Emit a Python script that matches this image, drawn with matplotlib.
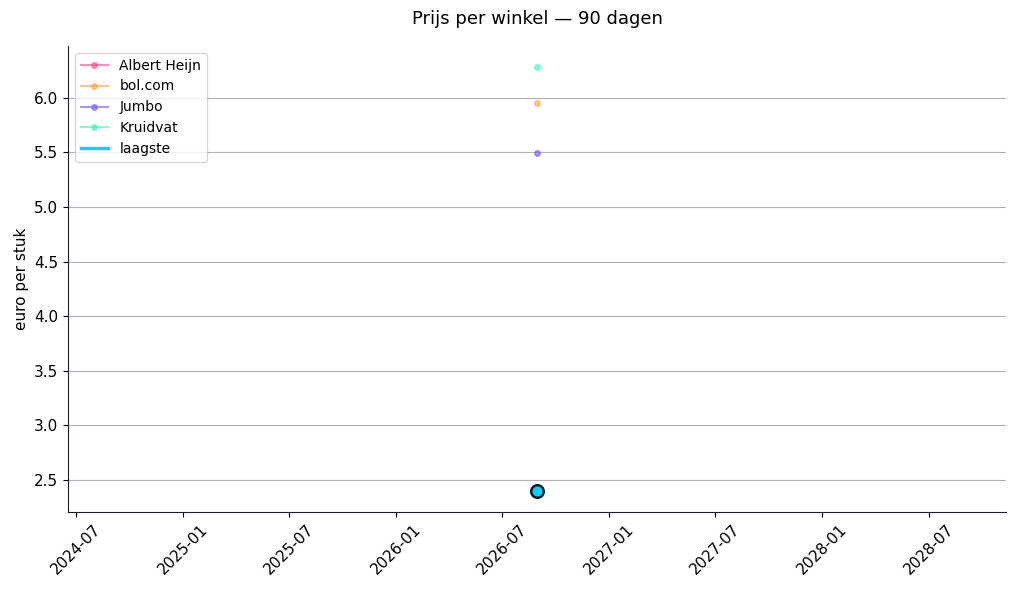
import numpy as np
import pandas as pd
import matplotlib
matplotlib.use('Agg')
import matplotlib.pyplot as plt

# één meetmoment
dates = pd.to_datetime(['2026-08-30'])

stores = ['Albert Heijn', 'bol.com', 'Jumbo', 'Kruidvat']
prices = {
    'Albert Heijn': [2.40],
    'bol.com': [5.95],
    'Jumbo': [5.49],
    'Kruidvat': [6.28],
}
colors = ['#ff4f8b', '#ffa64d', '#7b61ff', '#3dffb0']
lowest = [2.40]

fig, ax = plt.subplots(figsize=(10.16, 5.9), dpi=100)

for store, c in zip(stores, colors):
    ax.plot(dates, prices[store], color=c, marker='o', markersize=4,
            linewidth=1.5, alpha=0.65, label=store)

ax.plot(dates, lowest, color='#00d4ff', linewidth=2.5, label='laagste')
ax.plot(dates, lowest, linestyle='none', marker='o', markersize=9,
        markerfacecolor='#00d4ff', markeredgecolor='#111a2a', markeredgewidth=1.8)

ax.set_title('Prijs per winkel — 90 dagen', fontsize=13, pad=16)
ax.set_ylabel('euro per stuk', fontsize=11)
ax.tick_params(labelsize=11)
ax.grid(axis='y', color='#b0b0b0', linewidth=0.8)
ax.set_axisbelow(True)
for s in ['top', 'right']:
    ax.spines[s].set_visible(False)
for s in ['left', 'bottom']:
    ax.spines[s].set_color('#1c1c3a')
ax.legend(loc='upper left', fontsize=10)
plt.setp(ax.get_xticklabels(), rotation=45)

fig.subplots_adjust(left=0.067, right=0.990, top=0.922, bottom=0.132)
fig.savefig('out.png')
